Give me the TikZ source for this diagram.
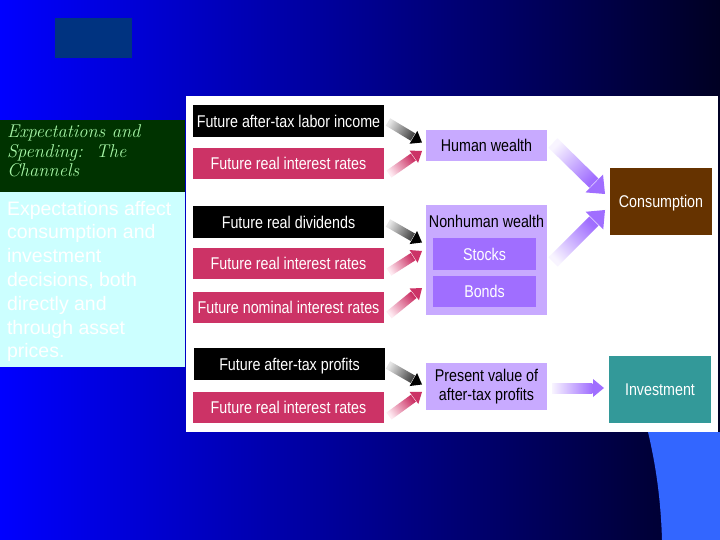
\documentclass[tikz,border=0pt]{standalone}
\usepackage{fontspec}
\newfontfamily\narrowsans[FakeStretch=0.84]{Liberation Sans}
\newfontfamily\bodysans{Liberation Sans}
\usetikzlibrary{calc}
\definecolor{bgl}{RGB}{0,0,255}
\definecolor{bgm}{RGB}{0,0,180}
\definecolor{bgr}{RGB}{0,0,35}
\definecolor{darkrect}{RGB}{0,51,128}
\definecolor{panelgreen}{RGB}{0,51,0}
\definecolor{titlegreen}{RGB}{165,245,165}
\definecolor{panelcyan}{RGB}{204,255,255}
\definecolor{crimson}{RGB}{204,51,102}
\definecolor{lav}{RGB}{200,170,255}
\definecolor{purp}{RGB}{160,110,255}
\definecolor{brownc}{RGB}{102,51,0}
\definecolor{tealc}{RGB}{51,153,153}
\definecolor{lightblue}{RGB}{51,102,255}
\definecolor{pinktail}{RGB}{255,235,242}
\definecolor{graytail}{RGB}{230,230,230}
\definecolor{grayend}{RGB}{70,70,70}
\definecolor{purtail}{RGB}{248,244,255}
% #1 tail, #2 tip, #3 shaft half width, #4 head half width, #5 head length,
% #6 shading angle, #7 tail colour, #8 shaft end colour, #9 head colour
\newcommand\fatarrow[9]{%
  \coordinate (fahb) at ($(#2)!#5!(#1)$);
  \coordinate (fahs) at ($(#2)!#5+0.6pt!(#1)$);
  \path[top color=#7, bottom color=#8, shading angle=#6]
    ($(#1)!#3!90:(#2)$) -- ($(fahs)!#3!90:(#2)$) -- ($(fahs)!#3!-90:(#2)$)
    -- ($(#1)!#3!-90:(#2)$) -- cycle;
  \fill[#9] ($(fahb)!#4!90:(#2)$) -- (#2) -- ($(fahb)!#4!-90:(#2)$) -- cycle;
}
\begin{document}
\begin{tikzpicture}[x=1pt,y=-1pt,
  every node/.style={inner sep=0pt, outer sep=0pt},
  bx/.style={rectangle, align=center, text height=12.2pt, text depth=0pt,
    font=\narrowsans\fontsize{17}{18}\selectfont},
  blk/.style={bx, fill=black, text=white, minimum width=191pt, minimum height=32pt},
  crim/.style={bx, fill=crimson, text=white, minimum width=191pt, minimum height=31pt},
  lav/.style={bx, fill=lav, text=black, minimum width=121pt},
  pur/.style={bx, fill=purp, text=white, minimum width=103pt},
  outc/.style={bx, text=white, minimum width=102pt, minimum height=67pt},
  titletxt/.style={anchor=base west, text=titlegreen, font=\itshape\fontsize{18.5}{19}\selectfont},
  bodytxt/.style={anchor=base west, text=white, font=\bodysans\fontsize{19.5}{24}\selectfont},
]
\useasboundingbox (0,0) rectangle (720,540);
% background
\shade[left color=bgl, middle color=bgm, right color=bgr] (0,0) rectangle (720,540);
\fill[lightblue] (648,432) .. controls (657,470) and (661,505) .. (662,540) -- (720,540) -- (720,432) -- cycle;
\fill[darkrect] (55,18) rectangle (132,58);
% left panels
\fill[panelgreen] (0,120) rectangle (185,192);
\fill[panelcyan] (0,192) rectangle (185,367);
\node[titletxt] (t1) at (7,138) {Expectations and};
\node[titletxt] (t2) at (7,157.3) {Spending:\ \ The};
\node[titletxt] (t3) at (7,176.6) {Channels};
\node[bodytxt] (b1) at (7,215) {Expectations affect};
\node[bodytxt] (b2) at (7,238.8) {consumption and};
\node[bodytxt] (b3) at (7,262.6) {investment};
\node[bodytxt] (b4) at (7,286.4) {decisions, both};
\node[bodytxt] (b5) at (7,310.2) {directly and};
\node[bodytxt] (b6) at (7,334) {through asset};
\node[bodytxt] (b7) at (7,357.8) {prices.};
% white panel
\fill[white] (186,96) rectangle (718,432);
% left boxes
\node[blk]  (f1) at (288.5,121)   {Future after-tax labor income};
\node[crim] (f2) at (288.5,163.5) {Future real interest rates};
\node[blk]  (f3) at (288.5,222)   {Future real dividends};
\node[crim] (f4) at (288.5,263.5) {Future real interest rates};
\node[crim] (f5) at (288.5,307)   {Future nominal interest rates};
\node[blk]  (f6) at (289.5,364)   {Future after-tax profits};
\node[crim] (f7) at (288.5,407)   {Future real interest rates};
% middle boxes
\node[lav, minimum height=31pt] (hw) at (486.5,145.5) {Human wealth};
\node[lav, minimum height=110pt] (nh) at (486.5,260) {};
\node[bx, text=black] (nht) at (486.5,221) {Nonhuman wealth};
\node[pur, minimum height=32pt] (st) at (484.5,254) {Stocks};
\node[pur, minimum height=31pt] (bo) at (484.5,291.5) {Bonds};
\node[rectangle, fill=lav, minimum width=121pt, minimum height=47pt, align=center,
  font=\narrowsans\fontsize{17}{18.5}\selectfont] (pv) at (486.5,386.5)
  {Present value of\\after-tax profits};
% right boxes
\node[outc, fill=brownc] (co) at (661,201.5) {Consumption};
\node[outc, fill=tealc]  (in) at (660,389.5) {Investment};
% arrow end points
\coordinate (a1s) at ($(f1.east)+(4,1)$);   \coordinate (a1e) at ($(hw.west)+(-4,-3)$);
\coordinate (a2s) at ($(f2.east)+(5,10.5)$); \coordinate (a2e) at ($(hw.west)+(-4,5.5)$);
\coordinate (a3s) at ($(f3.east)+(4,1)$);   \coordinate (a3e) at ($(nh.west)+(-4,-17.5)$);
\coordinate (a4s) at ($(f4.east)+(5,8.5)$); \coordinate (a4e) at ($(nh.west)+(-4,-9)$);
\coordinate (a5s) at ($(f5.east)+(5,8)$);   \coordinate (a5e) at ($(nh.west)+(-4,28)$);
\coordinate (a6s) at ($(f6.east)+(3,1)$);   \coordinate (a6e) at ($(pv.west)+(-4,-2)$);
\coordinate (a7s) at ($(f7.east)+(5,9)$);   \coordinate (a7e) at ($(pv.west)+(-4,5.5)$);
\coordinate (p1s) at ($(hw.east)+(6,-2.5)$); \coordinate (p1e) at ($(co.west)+(-5,-7.5)$);
\coordinate (p2s) at ($(nh.east)+(6,2)$);    \coordinate (p2e) at ($(co.west)+(-5,8.5)$);
\coordinate (p3s) at ($(pv.east)+(5,1.5)$);  \coordinate (p3e) at ($(in.west)+(-5,-1.5)$);
% small arrows
\fatarrow{a1s}{a1e}{4.3pt}{7.5pt}{10pt}{59}{graytail}{grayend}{black}
\fatarrow{a2s}{a2e}{4.3pt}{7.5pt}{10pt}{126}{pinktail}{crimson}{crimson}
\fatarrow{a3s}{a3e}{4.3pt}{7.5pt}{10pt}{60}{graytail}{grayend}{black}
\fatarrow{a4s}{a4e}{4.3pt}{7.5pt}{10pt}{123}{pinktail}{crimson}{crimson}
\fatarrow{a5s}{a5e}{4.3pt}{7.5pt}{10pt}{130}{pinktail}{crimson}{crimson}
\fatarrow{a6s}{a6e}{4.3pt}{7.5pt}{10pt}{60}{graytail}{grayend}{black}
\fatarrow{a7s}{a7e}{4.3pt}{7.5pt}{10pt}{127}{pinktail}{crimson}{crimson}
% purple arrows
\fatarrow{p1s}{p1e}{6.5pt}{12.5pt}{15pt}{45.5}{purtail}{purp}{purp}
\fatarrow{p2s}{p2e}{6.5pt}{12.5pt}{15pt}{135}{purtail}{purp}{purp}
\fatarrow{p3s}{p3e}{5pt}{9pt}{11pt}{90}{purtail}{purp}{purp}
\end{tikzpicture}
\end{document}
